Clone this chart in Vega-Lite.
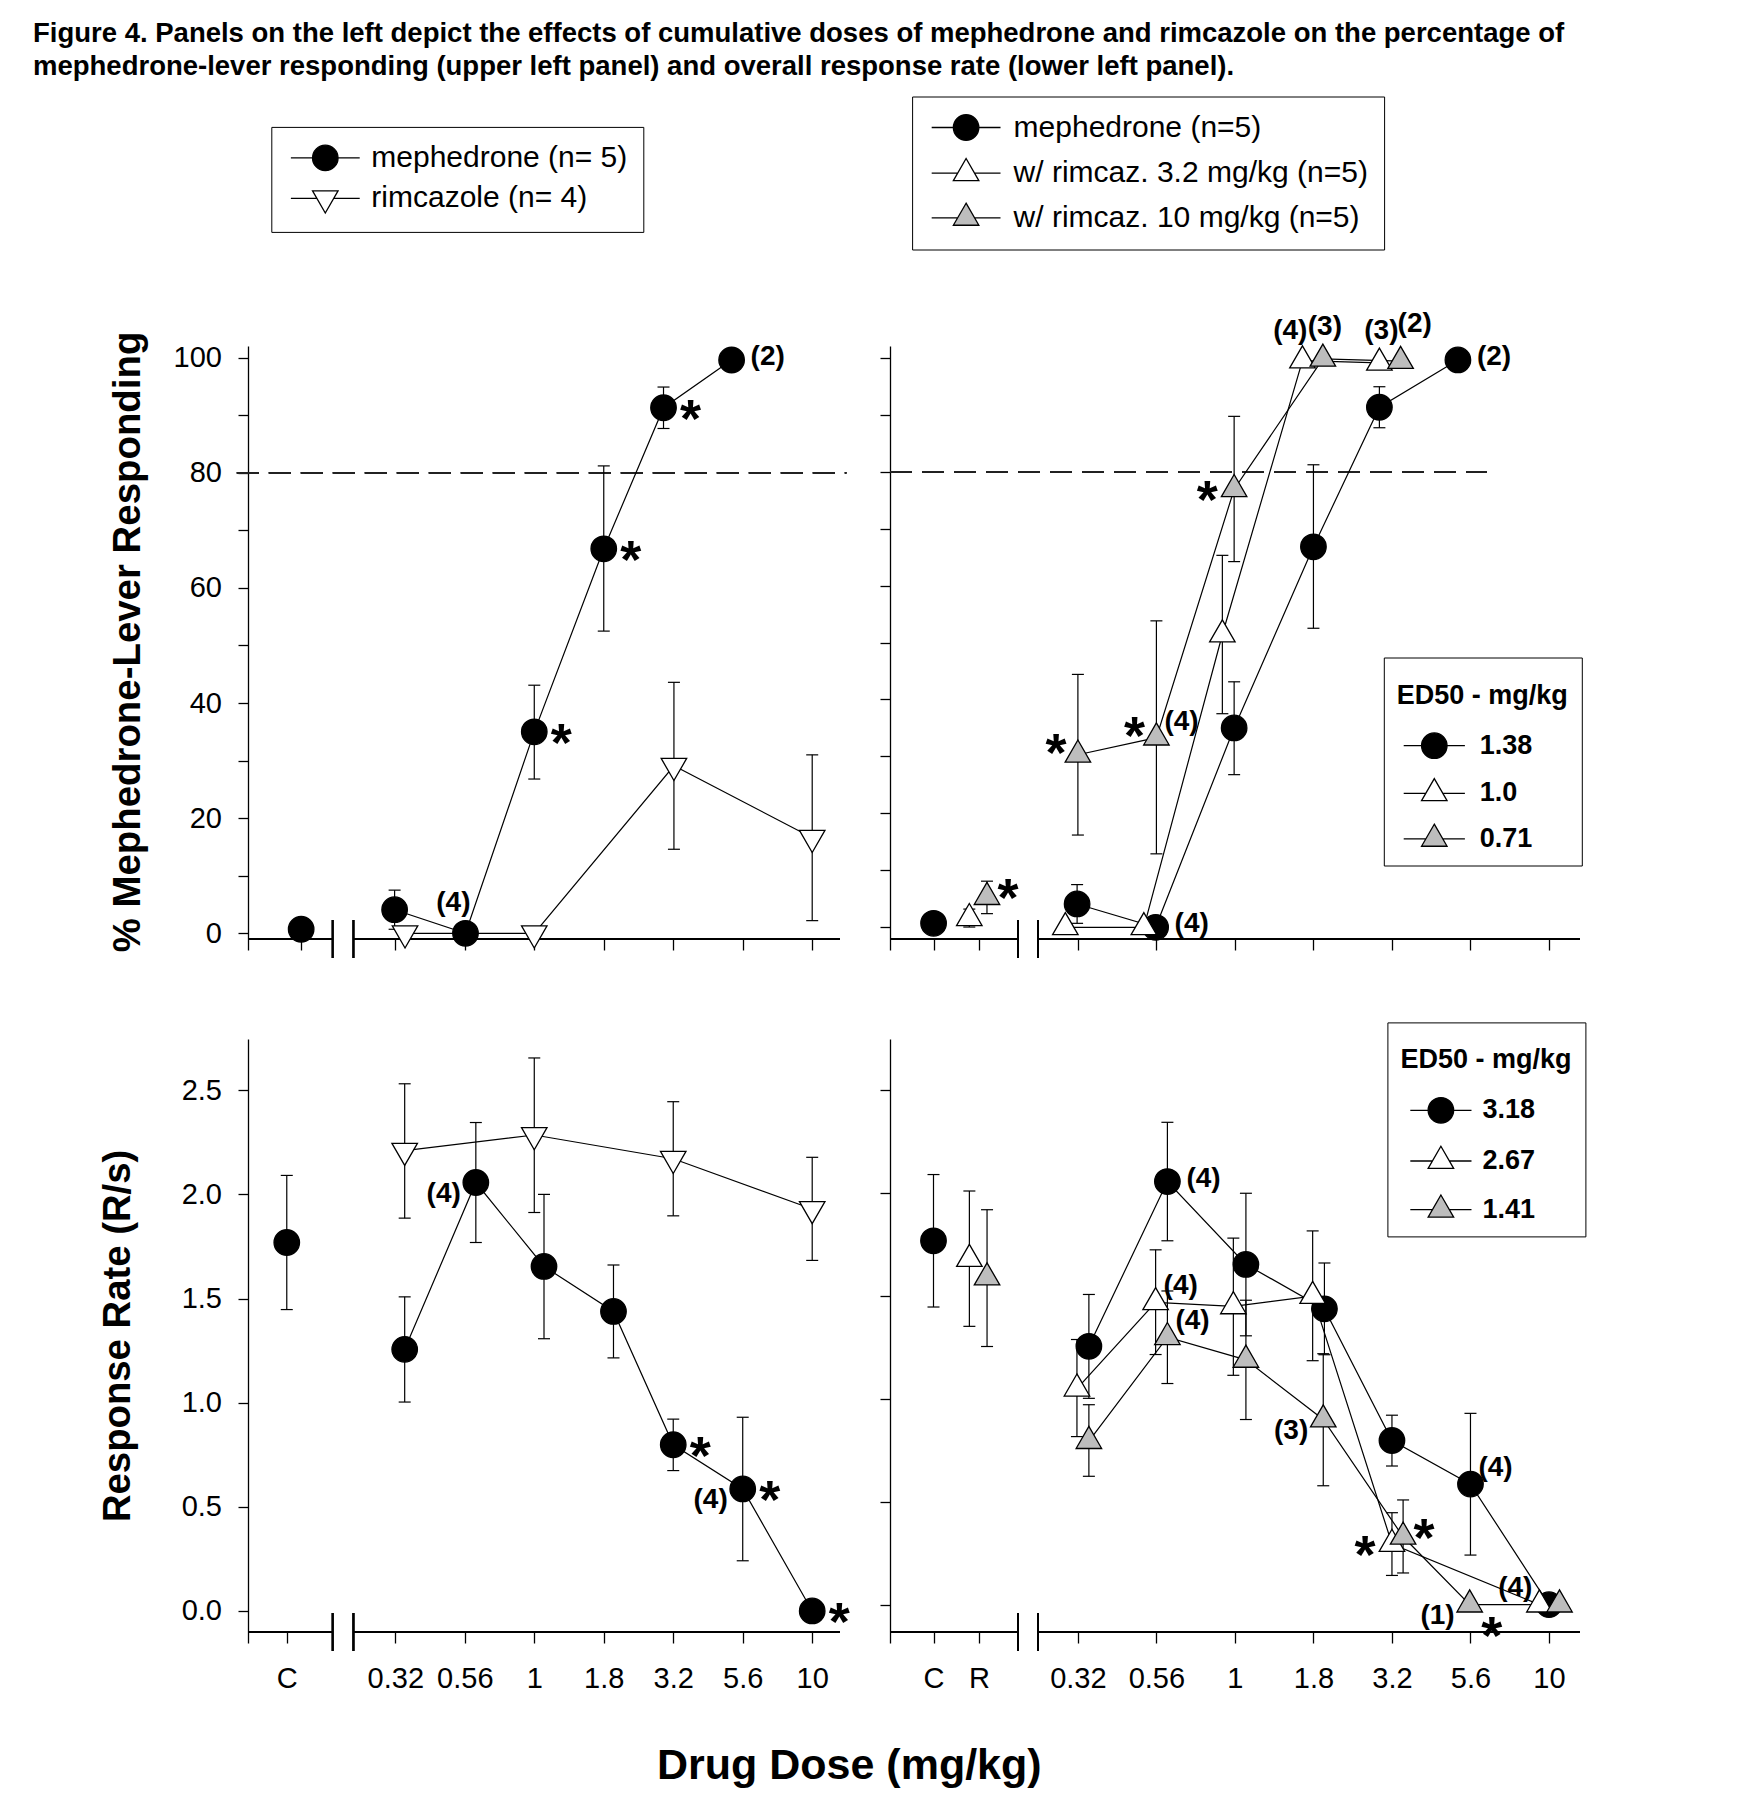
{
  "$schema": "https://vega.github.io/schema/vega-lite/v6.json",
  "background": "white",
  "padding": {"left": 33, "top": 20, "right": 5, "bottom": 5},
  "title": {
    "text": ["Figure 4. Panels on the left depict the effects of cumulative doses of mephedrone and rimcazole on the percentage of", "mephedrone-lever responding (upper left panel) and overall response rate (lower left panel)."],
    "anchor": "start", "frame": "group", "dx": -215, "offset": 16,
    "font": "Liberation Sans", "fontSize": 27.5, "fontWeight": "bold", "color": "black", "lineHeight": 32.5
  },
  "columns": 2,
  "spacing": {"row": 100, "column": 50},
  "align": "each",
  "bounds": "flush",
  "resolve": {
    "scale": {"x": "independent", "y": "independent", "shape": "independent", "fill": "independent", "stroke": "independent"},
    "axis": {"x": "independent", "y": "independent"},
    "legend": {"shape": "independent", "fill": "independent", "stroke": "independent"}
  },
  "config": {
    "view": {"stroke": null},
    "font": "Liberation Sans",
    "axis": {"grid": false, "domainColor": "black", "tickColor": "black", "labelColor": "black", "titleColor": "black", "labelFont": "Liberation Sans", "titleFont": "Liberation Sans", "domainWidth": 1.3, "tickWidth": 1.3, "labelFlush": false, "labelOverlap": false, "labelBound": false},
    "text": {"font": "Liberation Sans"}
  },
  "datasets": {
    "disc_left": [
      {"group": "mephedrone", "dose": "C", "slot": -0.355, "mean": 0.7, "conn": false},
      {"group": "mephedrone", "dose": "0.32", "slot": 0.99, "mean": 4.1, "lo": 0.7, "hi": 7.5, "conn": true},
      {"group": "mephedrone", "dose": "0.56", "slot": 2.01, "mean": 0, "conn": true, "note": "(4)", "noteAt": "AL"},
      {"group": "mephedrone", "dose": "1", "slot": 3.0, "mean": 35.0, "lo": 26.8, "hi": 43.1, "conn": true, "sigAt": "R"},
      {"group": "mephedrone", "dose": "1.8", "slot": 4.0, "mean": 66.8, "lo": 52.5, "hi": 81.2, "conn": true, "sigAt": "R"},
      {"group": "mephedrone", "dose": "3.2", "slot": 4.86, "mean": 91.3, "lo": 87.7, "hi": 94.9, "conn": true, "sigAt": "R"},
      {"group": "mephedrone", "dose": "5.6", "slot": 5.84, "mean": 99.6, "conn": true, "note": "(2)", "noteAt": "R"},
      {"group": "rimcazole", "dose": "0.32", "slot": 1.14, "mean": 0, "conn": true},
      {"group": "rimcazole", "dose": "1", "slot": 3.0, "mean": 0, "conn": true},
      {"group": "rimcazole", "dose": "3.2", "slot": 5.01, "mean": 29.1, "lo": 14.6, "hi": 43.6, "conn": true},
      {"group": "rimcazole", "dose": "10", "slot": 7.0, "mean": 16.6, "lo": 2.2, "hi": 31.0, "conn": true}
    ],
    "disc_right": [
      {"group": "mephedrone", "dose": "C", "slot": -0.838, "mean": 0.7, "conn": false},
      {"group": "mephedrone", "dose": "0.32", "slot": 0.99, "mean": 4.1, "lo": 0.7, "hi": 7.5, "conn": true},
      {"group": "mephedrone", "dose": "0.56", "slot": 1.99, "mean": 0, "conn": true, "note": "(4)", "noteAt": "R"},
      {"group": "mephedrone", "dose": "1", "slot": 2.99, "mean": 35.0, "lo": 26.8, "hi": 43.1, "conn": true},
      {"group": "mephedrone", "dose": "1.8", "slot": 4.0, "mean": 66.8, "lo": 52.5, "hi": 81.2, "conn": true},
      {"group": "mephedrone", "dose": "3.2", "slot": 4.84, "mean": 91.3, "lo": 87.7, "hi": 94.9, "conn": true},
      {"group": "mephedrone", "dose": "5.6", "slot": 5.84, "mean": 99.6, "conn": true, "note": "(2)", "noteAt": "R"},
      {"group": "rimcaz3.2", "dose": "R", "slot": -0.383, "mean": 1.6, "lo": 0.05, "hi": 3.2, "conn": false},
      {"group": "rimcaz3.2", "dose": "0.32", "slot": 0.84, "mean": 0, "conn": true},
      {"group": "rimcaz3.2", "dose": "0.56", "slot": 1.84, "mean": 0, "conn": true},
      {"group": "rimcaz3.2", "dose": "1", "slot": 2.84, "mean": 51.4, "lo": 37.5, "hi": 65.3, "conn": true},
      {"group": "rimcaz3.2", "dose": "1.8", "slot": 3.86, "mean": 99.5, "conn": true, "note": "(4)", "noteAt": "AL"},
      {"group": "rimcaz3.2", "dose": "3.2", "slot": 4.84, "mean": 99.1, "conn": true, "note": "(3)", "noteAt": "A"},
      {"group": "rimcaz10", "dose": "R", "slot": -0.158, "mean": 5.3, "lo": 2.4, "hi": 8.1, "conn": false, "sigAt": "UR"},
      {"group": "rimcaz10", "dose": "0.32", "slot": 1.0, "mean": 30.3, "lo": 16.2, "hi": 44.4, "conn": true, "sigAt": "UL"},
      {"group": "rimcaz10", "dose": "0.56", "slot": 2.0, "mean": 33.3, "lo": 12.9, "hi": 53.8, "conn": true, "sigAt": "UL", "note": "(4)", "noteAt": "UR"},
      {"group": "rimcaz10", "dose": "1", "slot": 2.99, "mean": 76.9, "lo": 64.2, "hi": 89.7, "conn": true, "sigAt": "L"},
      {"group": "rimcaz10", "dose": "1.8", "slot": 4.12, "mean": 99.8, "conn": true, "note": "(3)", "noteAt": "A"},
      {"group": "rimcaz10", "dose": "3.2", "slot": 5.11, "mean": 99.4, "conn": true, "note": "(2)", "noteAt": "AR"}
    ],
    "rate_left": [
      {"group": "mephedrone", "dose": "C", "slot": -0.562, "mean": 1.769, "lo": 1.447, "hi": 2.091, "conn": false},
      {"group": "mephedrone", "dose": "0.32", "slot": 1.135, "mean": 1.256, "lo": 1.003, "hi": 1.508, "conn": true},
      {"group": "mephedrone", "dose": "0.56", "slot": 2.159, "mean": 2.057, "lo": 1.769, "hi": 2.345, "conn": true, "note": "(4)", "noteAt": "LL"},
      {"group": "mephedrone", "dose": "1", "slot": 3.14, "mean": 1.654, "lo": 1.307, "hi": 2.0, "conn": true},
      {"group": "mephedrone", "dose": "1.8", "slot": 4.14, "mean": 1.438, "lo": 1.215, "hi": 1.661, "conn": true},
      {"group": "mephedrone", "dose": "3.2", "slot": 5.0, "mean": 0.798, "lo": 0.674, "hi": 0.921, "conn": true, "sigAt": "R"},
      {"group": "mephedrone", "dose": "5.6", "slot": 6.0, "mean": 0.586, "lo": 0.241, "hi": 0.93, "conn": true, "note": "(4)", "noteAt": "LL", "sigAt": "R"},
      {"group": "mephedrone", "dose": "10", "slot": 7.0, "mean": 0.0, "conn": true, "sigAt": "R"},
      {"group": "rimcazole", "dose": "0.32", "slot": 1.135, "mean": 2.21, "lo": 1.886, "hi": 2.531, "conn": true},
      {"group": "rimcazole", "dose": "1", "slot": 3.0, "mean": 2.285, "lo": 1.913, "hi": 2.655, "conn": true},
      {"group": "rimcazole", "dose": "3.2", "slot": 5.0, "mean": 2.171, "lo": 1.897, "hi": 2.445, "conn": true},
      {"group": "rimcazole", "dose": "10", "slot": 7.0, "mean": 1.93, "lo": 1.683, "hi": 2.178, "conn": true}
    ],
    "rate_right": [
      {"group": "mephedrone", "dose": "C", "slot": -0.839, "mean": 1.769, "lo": 1.447, "hi": 2.091, "conn": false},
      {"group": "mephedrone", "dose": "0.32", "slot": 1.14, "mean": 1.256, "lo": 1.003, "hi": 1.508, "conn": true},
      {"group": "mephedrone", "dose": "0.56", "slot": 2.14, "mean": 2.057, "lo": 1.769, "hi": 2.345, "conn": true, "note": "(4)", "noteAt": "R"},
      {"group": "mephedrone", "dose": "1", "slot": 3.14, "mean": 1.654, "lo": 1.307, "hi": 2.0, "conn": true},
      {"group": "mephedrone", "dose": "1.8", "slot": 4.14, "mean": 1.438, "lo": 1.215, "hi": 1.661, "conn": true},
      {"group": "mephedrone", "dose": "3.2", "slot": 5.0, "mean": 0.798, "lo": 0.674, "hi": 0.921, "conn": true},
      {"group": "mephedrone", "dose": "5.6", "slot": 6.0, "mean": 0.586, "lo": 0.241, "hi": 0.93, "conn": true, "note": "(4)", "noteAt": "UR"},
      {"group": "mephedrone", "dose": "10", "slot": 7.0, "mean": 0.0, "conn": true},
      {"group": "rimcaz3.2", "dose": "R", "slot": -0.382, "mean": 1.68, "lo": 1.353, "hi": 2.011, "conn": false},
      {"group": "rimcaz3.2", "dose": "0.32", "slot": 0.988, "mean": 1.05, "lo": 0.817, "hi": 1.289, "conn": true},
      {"group": "rimcaz3.2", "dose": "0.56", "slot": 1.99, "mean": 1.47, "lo": 1.216, "hi": 1.725, "conn": true, "note": "(4)", "noteAt": "UR"},
      {"group": "rimcaz3.2", "dose": "1", "slot": 2.98, "mean": 1.45, "lo": 1.115, "hi": 1.782, "conn": true},
      {"group": "rimcaz3.2", "dose": "1.8", "slot": 3.99, "mean": 1.5, "lo": 1.186, "hi": 1.817, "conn": true},
      {"group": "rimcaz3.2", "dose": "3.2", "slot": 5.0, "mean": 0.295, "lo": 0.142, "hi": 0.447, "conn": true, "sigAt": "L"},
      {"group": "rimcaz3.2", "dose": "10", "slot": 6.878, "mean": 0.0, "conn": true, "note": "(4)", "noteAt": "UL"},
      {"group": "rimcaz10", "dose": "R", "slot": -0.157, "mean": 1.59, "lo": 1.255, "hi": 1.92, "conn": false},
      {"group": "rimcaz10", "dose": "0.32", "slot": 1.14, "mean": 0.795, "lo": 0.624, "hi": 0.972, "conn": true},
      {"group": "rimcaz10", "dose": "0.56", "slot": 2.14, "mean": 1.3, "lo": 1.075, "hi": 1.525, "conn": true, "note": "(4)", "noteAt": "UR"},
      {"group": "rimcaz10", "dose": "1", "slot": 3.14, "mean": 1.19, "lo": 0.9, "hi": 1.48, "conn": true},
      {"group": "rimcaz10", "dose": "1.8", "slot": 4.125, "mean": 0.9, "lo": 0.578, "hi": 1.22, "conn": true, "note": "(3)", "noteAt": "LL"},
      {"group": "rimcaz10", "dose": "3.2", "slot": 5.142, "mean": 0.33, "lo": 0.154, "hi": 0.509, "conn": true, "sigAt": "UR"},
      {"group": "rimcaz10", "dose": "5.6", "slot": 5.99, "mean": 0.0, "conn": true, "note": "(1)", "noteAt": "LL", "sigAt": "LR"},
      {"group": "rimcaz10", "dose": "10", "slot": 7.134, "mean": 0.0, "conn": true}
    ],
    "series_left": [
      {"group": "mephedrone", "label": "mephedrone (n= 5)"},
      {"group": "rimcazole", "label": "rimcazole (n= 4)"}
    ],
    "series_right": [
      {"group": "mephedrone", "label": "mephedrone (n=5)"},
      {"group": "rimcaz3.2", "label": "w/ rimcaz. 3.2 mg/kg (n=5)"},
      {"group": "rimcaz10", "label": "w/ rimcaz. 10 mg/kg (n=5)"}
    ],
    "ed50": [
      {"measure": "discrimination", "group": "mephedrone", "ed50": "1.38"},
      {"measure": "discrimination", "group": "rimcaz3.2", "ed50": "1.0"},
      {"measure": "discrimination", "group": "rimcaz10", "ed50": "0.71"},
      {"measure": "rate", "group": "mephedrone", "ed50": "3.18"},
      {"measure": "rate", "group": "rimcaz3.2", "ed50": "2.67"},
      {"measure": "rate", "group": "rimcaz10", "ed50": "1.41"}
    ]
  },
  "concat": [
    {
      "width": 592, "height": 593,
      "data": {"name": "disc_left"},
      "layer": [
        {"mark": {"type": "rule", "color": "#222222", "strokeWidth": 1.3, "strokeDash": [22, 10]},
         "encoding": {"x": {"datum": -1.28}, "x2": {"datum": 7.49}, "y": {"datum": 80}}},
        {"mark": {"type": "rule", "color": "black", "strokeWidth": 1.3},
         "encoding": {"x": {"datum": -1.12}, "x2": {"datum": 0.097}, "y": {"datum": -0.99}}},
        {"mark": {"type": "rule", "color": "black", "strokeWidth": 1.3},
         "encoding": {"x": {"datum": 0.398}, "x2": {"datum": 7.4}, "y": {"datum": -0.99}}},
        {"mark": {"type": "tick", "orient": "vertical", "size": 38, "thickness": 1.3, "color": "black", "opacity": 1},
         "encoding": {"x": {"datum": 0.097}, "y": {"datum": -0.99}}},
        {"mark": {"type": "tick", "orient": "vertical", "size": 38, "thickness": 1.3, "color": "black", "opacity": 1},
         "encoding": {"x": {"datum": 0.398}, "y": {"datum": -0.99}}},
        {"transform": [{"filter": "datum.conn"}],
         "mark": {"type": "line", "color": "black", "strokeWidth": 1.2},
         "encoding": {
           "x": {"field": "slot", "type": "quantitative", "scale": {"domain": [-1.12, 7.4], "nice": false, "zero": false},
                 "axis": {"values": [-1.12, -0.355, 1, 2, 3, 4, 5, 6, 7], "labels": false, "domain": false, "tickSize": 11, "title": null}},
           "y": {"field": "mean", "type": "quantitative", "scale": {"domain": [-0.99, 102.03], "nice": false, "zero": false},
                 "axis": {"values": [0, 10, 20, 30, 40, 50, 60, 70, 80, 90, 100], "labelExpr": "datum.value % 20 === 0 ? datum.label : ''",
                          "tickSize": 10, "labelFontSize": 29, "labelPadding": 16.5,
                          "title": "% Mephedrone-Lever Responding", "titleFontSize": 38.4, "titleFontWeight": "bold",
                          "titleX": -108.2, "titleY": 295.5, "titleBaseline": "alphabetic", "titleAlign": "center", "titleAngle": -90}},
           "detail": {"field": "group"}
         }},
        {"transform": [{"filter": "isValid(datum.lo)"}],
         "mark": {"type": "rule", "color": "black", "strokeWidth": 1.2},
         "encoding": {"x": {"field": "slot", "type": "quantitative"}, "y": {"field": "lo", "type": "quantitative"}, "y2": {"field": "hi"}}},
        {"transform": [{"filter": "isValid(datum.lo)"}],
         "mark": {"type": "tick", "orient": "horizontal", "size": 12, "thickness": 1.2, "color": "black", "opacity": 1},
         "encoding": {"x": {"field": "slot", "type": "quantitative"}, "y": {"field": "lo", "type": "quantitative"}}},
        {"transform": [{"filter": "isValid(datum.hi)"}],
         "mark": {"type": "tick", "orient": "horizontal", "size": 12, "thickness": 1.2, "color": "black", "opacity": 1},
         "encoding": {"x": {"field": "slot", "type": "quantitative"}, "y": {"field": "hi", "type": "quantitative"}}},
        {"mark": {"type": "point", "filled": true, "opacity": 1, "stroke": "black", "strokeWidth": 1.3, "size": 650},
         "encoding": {
           "x": {"field": "slot", "type": "quantitative"}, "y": {"field": "mean", "type": "quantitative"},
           "shape": {"field": "group", "type": "nominal", "scale": {"domain": ["mephedrone", "rimcazole"], "range": ["M1,0A1,1,0,1,1,-1,0A1,1,0,1,1,1,0Z", "M0,1.155L1,-0.577L-1,-0.577Z"]}, "legend": null},
           "fill": {"field": "group", "type": "nominal", "scale": {"domain": ["mephedrone", "rimcazole"], "range": ["black", "white"]}, "legend": null}
         }},
        {"transform": [{"filter": "datum.noteAt === 'R'"}],
         "mark": {"type": "text", "align": "left", "baseline": "middle", "dx": 19, "dy": -3, "fontSize": 28, "fontWeight": "bold", "color": "black"},
         "encoding": {"x": {"field": "slot", "type": "quantitative"}, "y": {"field": "mean", "type": "quantitative"}, "text": {"field": "note"}}},
        {"transform": [{"filter": "datum.noteAt === 'AL'"}],
         "mark": {"type": "text", "align": "right", "baseline": "middle", "dx": 5, "dy": -30, "fontSize": 28, "fontWeight": "bold", "color": "black"},
         "encoding": {"x": {"field": "slot", "type": "quantitative"}, "y": {"field": "mean", "type": "quantitative"}, "text": {"field": "note"}}},
        {"transform": [{"filter": "datum.sigAt === 'R'"}],
         "mark": {"type": "text", "align": "center", "baseline": "alphabetic", "dx": 27, "dy": 29, "fontSize": 54, "fontWeight": "bold", "color": "black"},
         "encoding": {"x": {"field": "slot", "type": "quantitative"}, "y": {"field": "mean", "type": "quantitative"}, "text": {"value": "*"}}},
        {"data": {"name": "series_left"},
         "mark": {"type": "point", "filled": true, "opacity": 0},
         "encoding": {
           "shape": {"field": "label", "type": "nominal", "sort": null,
                     "scale": {"range": ["M-2.7,0L-1,0M1,0L2.7,0M1,0A1,1,0,1,1,-1,0A1,1,0,1,1,1,0Z", "M-2.7,0L-0.667,0M0.667,0L2.7,0M0,1.155L1,-0.577L-1,-0.577Z"]},
                     "legend": {"title": null, "orient": "none", "legendX": 23.3, "legendY": -219.1, "direction": "vertical",
                                "strokeColor": "black", "fillColor": "white", "padding": 16, "cornerRadius": 0,
                                "labelFont": "Liberation Sans", "labelFontSize": 30, "labelColor": "black", "labelLimit": 1000, "labelOffset": 31,
                                "symbolSize": 650, "symbolStrokeWidth": 1.3, "symbolOpacity": 1, "symbolOffset": 23,
                                "rowPadding": 9.4}},
           "fill": {"field": "label", "type": "nominal", "sort": null, "scale": {"range": ["black", "white"]}, "legend": {"title": null}},
           "stroke": {"field": "label", "type": "nominal", "sort": null, "scale": {"range": ["black", "black"]}, "legend": {"title": null}}
         }}
      ],
      "resolve": {"scale": {"shape": "independent", "fill": "independent", "stroke": "independent"}}
    },
    {
      "width": 690, "height": 593,
      "data": {"name": "disc_right"},
      "layer": [
        {"mark": {"type": "rule", "color": "#222222", "strokeWidth": 1.3, "strokeDash": [22, 10]},
         "encoding": {"x": {"datum": -1.393}, "x2": {"datum": 6.21}, "y": {"datum": 80}}},
        {"mark": {"type": "rule", "color": "black", "strokeWidth": 1.3},
         "encoding": {"x": {"datum": -1.393}, "x2": {"datum": 0.237}, "y": {"datum": -2.05}}},
        {"mark": {"type": "rule", "color": "black", "strokeWidth": 1.3},
         "encoding": {"x": {"datum": 0.492}, "x2": {"datum": 7.395}, "y": {"datum": -2.05}}},
        {"mark": {"type": "tick", "orient": "vertical", "size": 38, "thickness": 1.3, "color": "black", "opacity": 1},
         "encoding": {"x": {"datum": 0.237}, "y": {"datum": -2.05}}},
        {"mark": {"type": "tick", "orient": "vertical", "size": 38, "thickness": 1.3, "color": "black", "opacity": 1},
         "encoding": {"x": {"datum": 0.492}, "y": {"datum": -2.05}}},
        {"transform": [{"filter": "datum.conn"}],
         "mark": {"type": "line", "color": "black", "strokeWidth": 1.2},
         "encoding": {
           "x": {"field": "slot", "type": "quantitative", "scale": {"domain": [-1.393, 7.395], "nice": false, "zero": false},
                 "axis": {"values": [-1.393, -0.838, -0.261, 1, 2, 3, 4, 5, 6, 7], "labels": false, "domain": false, "tickSize": 11, "title": null}},
           "y": {"field": "mean", "type": "quantitative", "scale": {"domain": [-2.05, 102.05], "nice": false, "zero": false},
                 "axis": {"values": [0, 10, 20, 30, 40, 50, 60, 70, 80, 90, 100], "labels": false, "tickSize": 10, "title": null}},
           "detail": {"field": "group"}
         }},
        {"transform": [{"filter": "isValid(datum.lo)"}],
         "mark": {"type": "rule", "color": "black", "strokeWidth": 1.2},
         "encoding": {"x": {"field": "slot", "type": "quantitative"}, "y": {"field": "lo", "type": "quantitative"}, "y2": {"field": "hi"}}},
        {"transform": [{"filter": "isValid(datum.lo)"}],
         "mark": {"type": "tick", "orient": "horizontal", "size": 12, "thickness": 1.2, "color": "black", "opacity": 1},
         "encoding": {"x": {"field": "slot", "type": "quantitative"}, "y": {"field": "lo", "type": "quantitative"}}},
        {"transform": [{"filter": "isValid(datum.hi)"}],
         "mark": {"type": "tick", "orient": "horizontal", "size": 12, "thickness": 1.2, "color": "black", "opacity": 1},
         "encoding": {"x": {"field": "slot", "type": "quantitative"}, "y": {"field": "hi", "type": "quantitative"}}},
        {"mark": {"type": "point", "filled": true, "opacity": 1, "stroke": "black", "strokeWidth": 1.3, "size": 650},
         "encoding": {
           "x": {"field": "slot", "type": "quantitative"}, "y": {"field": "mean", "type": "quantitative"},
           "shape": {"field": "group", "type": "nominal", "scale": {"domain": ["mephedrone", "rimcaz3.2", "rimcaz10"], "range": ["M1,0A1,1,0,1,1,-1,0A1,1,0,1,1,1,0Z", "M0,-1.155L1,0.577L-1,0.577Z", "M0,-1.155L1,0.577L-1,0.577Z"]}, "legend": null},
           "fill": {"field": "group", "type": "nominal", "scale": {"domain": ["mephedrone", "rimcaz3.2", "rimcaz10"], "range": ["black", "white", "#bdbdbd"]}, "legend": null}
         }},
        {"transform": [{"filter": "datum.noteAt === 'R'"}],
         "mark": {"type": "text", "align": "left", "baseline": "middle", "dx": 19, "dy": -3, "fontSize": 28, "fontWeight": "bold", "color": "black"},
         "encoding": {"x": {"field": "slot", "type": "quantitative"}, "y": {"field": "mean", "type": "quantitative"}, "text": {"field": "note"}}},
        {"transform": [{"filter": "datum.noteAt === 'UR'"}],
         "mark": {"type": "text", "align": "left", "baseline": "middle", "dx": 8, "dy": -16, "fontSize": 28, "fontWeight": "bold", "color": "black"},
         "encoding": {"x": {"field": "slot", "type": "quantitative"}, "y": {"field": "mean", "type": "quantitative"}, "text": {"field": "note"}}},
        {"transform": [{"filter": "datum.noteAt === 'A'"}],
         "mark": {"type": "text", "align": "center", "baseline": "middle", "dx": 2, "dy": -32, "fontSize": 28, "fontWeight": "bold", "color": "black"},
         "encoding": {"x": {"field": "slot", "type": "quantitative"}, "y": {"field": "mean", "type": "quantitative"}, "text": {"field": "note"}}},
        {"transform": [{"filter": "datum.noteAt === 'AL'"}],
         "mark": {"type": "text", "align": "right", "baseline": "middle", "dx": 5, "dy": -30, "fontSize": 28, "fontWeight": "bold", "color": "black"},
         "encoding": {"x": {"field": "slot", "type": "quantitative"}, "y": {"field": "mean", "type": "quantitative"}, "text": {"field": "note"}}},
        {"transform": [{"filter": "datum.noteAt === 'AR'"}],
         "mark": {"type": "text", "align": "left", "baseline": "middle", "dx": -3, "dy": -37, "fontSize": 28, "fontWeight": "bold", "color": "black"},
         "encoding": {"x": {"field": "slot", "type": "quantitative"}, "y": {"field": "mean", "type": "quantitative"}, "text": {"field": "note"}}},
        {"transform": [{"filter": "datum.sigAt === 'UR'"}],
         "mark": {"type": "text", "align": "center", "baseline": "alphabetic", "dx": 21, "dy": 19, "fontSize": 54, "fontWeight": "bold", "color": "black"},
         "encoding": {"x": {"field": "slot", "type": "quantitative"}, "y": {"field": "mean", "type": "quantitative"}, "text": {"value": "*"}}},
        {"transform": [{"filter": "datum.sigAt === 'UL'"}],
         "mark": {"type": "text", "align": "center", "baseline": "alphabetic", "dx": -22, "dy": 16, "fontSize": 54, "fontWeight": "bold", "color": "black"},
         "encoding": {"x": {"field": "slot", "type": "quantitative"}, "y": {"field": "mean", "type": "quantitative"}, "text": {"value": "*"}}},
        {"transform": [{"filter": "datum.sigAt === 'L'"}],
         "mark": {"type": "text", "align": "center", "baseline": "alphabetic", "dx": -27, "dy": 29, "fontSize": 54, "fontWeight": "bold", "color": "black"},
         "encoding": {"x": {"field": "slot", "type": "quantitative"}, "y": {"field": "mean", "type": "quantitative"}, "text": {"value": "*"}}},
        {"data": {"name": "series_right"},
         "mark": {"type": "point", "filled": true, "opacity": 0},
         "encoding": {
           "shape": {"field": "label", "type": "nominal", "sort": null,
                     "scale": {"range": ["M-2.7,0L-1,0M1,0L2.7,0M1,0A1,1,0,1,1,-1,0A1,1,0,1,1,1,0Z", "M-2.7,0L-0.667,0M0.667,0L2.7,0M0,-1.155L1,0.577L-1,0.577Z", "M-2.7,0L-0.667,0M0.667,0L2.7,0M0,-1.155L1,0.577L-1,0.577Z"]},
                     "legend": {"title": null, "orient": "none", "legendX": 22.1, "legendY": -249.5, "direction": "vertical",
                                "strokeColor": "black", "fillColor": "white", "padding": 16, "cornerRadius": 0,
                                "labelFont": "Liberation Sans", "labelFontSize": 30, "labelColor": "black", "labelLimit": 1000, "labelOffset": 32.5,
                                "symbolSize": 650, "symbolStrokeWidth": 1.3, "symbolOpacity": 1, "symbolOffset": 23,
                                "rowPadding": 11.7}},
           "fill": {"field": "label", "type": "nominal", "sort": null, "scale": {"range": ["black", "white", "#bdbdbd"]}, "legend": {"title": null}},
           "stroke": {"field": "label", "type": "nominal", "sort": null, "scale": {"range": ["black", "black", "black"]}, "legend": {"title": null}}
         }},
        {"data": {"name": "ed50"},
         "transform": [{"filter": "datum.measure === 'discrimination'"}],
         "mark": {"type": "point", "filled": true, "opacity": 0},
         "encoding": {
           "shape": {"field": "ed50", "type": "nominal", "sort": null,
                     "scale": {"range": ["M-2.4,0L-1,0M1,0L2.4,0M1,0A1,1,0,1,1,-1,0A1,1,0,1,1,1,0Z", "M-2.4,0L-0.667,0M0.667,0L2.4,0M0,-1.155L1,0.577L-1,0.577Z", "M-2.4,0L-0.667,0M0.667,0L2.4,0M0,-1.155L1,0.577L-1,0.577Z"]},
                     "legend": {"title": "ED50 - mg/kg", "orient": "none", "legendX": 493.8, "legendY": 311.5, "direction": "vertical",
                                "strokeColor": "black", "fillColor": "white", "padding": 13, "cornerRadius": 0,
                                "titleFont": "Liberation Sans", "titleFontSize": 27, "titleFontWeight": "bold", "titleColor": "black", "titleLimit": 1000,
                                "titleBaseline": "line-top", "titleLineHeight": 51, "titlePadding": 34.7,
                                "labelFont": "Liberation Sans", "labelFontSize": 27, "labelFontWeight": "bold", "labelColor": "black", "labelLimit": 1000, "labelOffset": 32,
                                "symbolSize": 650, "symbolStrokeWidth": 1.3, "symbolOpacity": 1, "symbolOffset": 24,
                                "rowPadding": 14.6}},
           "fill": {"field": "ed50", "type": "nominal", "sort": null, "scale": {"range": ["black", "white", "#bdbdbd"]}, "legend": {"title": "ED50 - mg/kg"}},
           "stroke": {"field": "ed50", "type": "nominal", "sort": null, "scale": {"range": ["black", "black", "black"]}, "legend": {"title": "ED50 - mg/kg"}}
         }}
      ],
      "resolve": {"scale": {"shape": "independent", "fill": "independent", "stroke": "independent"}}
    },
    {
      "width": 592, "height": 593,
      "data": {"name": "rate_left"},
      "layer": [
        {"mark": {"type": "rule", "color": "black", "strokeWidth": 1.3},
         "encoding": {"x": {"datum": -1.12}, "x2": {"datum": 0.097}, "y": {"datum": -0.101}}},
        {"mark": {"type": "rule", "color": "black", "strokeWidth": 1.3},
         "encoding": {"x": {"datum": 0.398}, "x2": {"datum": 7.4}, "y": {"datum": -0.101}}},
        {"mark": {"type": "tick", "orient": "vertical", "size": 38, "thickness": 1.3, "color": "black", "opacity": 1},
         "encoding": {"x": {"datum": 0.097}, "y": {"datum": -0.101}}},
        {"mark": {"type": "tick", "orient": "vertical", "size": 38, "thickness": 1.3, "color": "black", "opacity": 1},
         "encoding": {"x": {"datum": 0.398}, "y": {"datum": -0.101}}},
        {"transform": [{"filter": "datum.conn"}],
         "mark": {"type": "line", "color": "black", "strokeWidth": 1.2},
         "encoding": {
           "x": {"field": "slot", "type": "quantitative", "scale": {"domain": [-1.12, 7.4], "nice": false, "zero": false},
                 "axis": {"values": [-1.12, -0.562, 1, 2, 3, 4, 5, 6, 7],
                          "labelExpr": "datum.value < -1 ? '' : datum.value < 0 ? 'C' : ['0.32','0.56','1','1.8','3.2','5.6','10'][datum.value - 1]",
                          "labelFontSize": 29, "labelBaseline": "alphabetic", "labelPadding": 44, "domain": false, "tickSize": 11,
                          "title": "Drug Dose (mg/kg)", "titleFontSize": 43, "titleFontWeight": "bold", "titleX": 600.8, "titleY": 146.2,
                          "titleBaseline": "alphabetic", "titleAlign": "center"}},
           "y": {"field": "mean", "type": "quantitative", "scale": {"domain": [-0.101, 2.746], "nice": false, "zero": false},
                 "axis": {"values": [0, 0.5, 1, 1.5, 2, 2.5], "format": ".1f",
                          "tickSize": 10, "labelFontSize": 29, "labelPadding": 16.5,
                          "title": "Response Rate (R/s)", "titleFontSize": 38.3, "titleFontWeight": "bold",
                          "titleX": -119, "titleY": 296.4, "titleBaseline": "alphabetic", "titleAlign": "center", "titleAngle": -90}},
           "detail": {"field": "group"}
         }},
        {"transform": [{"filter": "isValid(datum.lo)"}],
         "mark": {"type": "rule", "color": "black", "strokeWidth": 1.2},
         "encoding": {"x": {"field": "slot", "type": "quantitative"}, "y": {"field": "lo", "type": "quantitative"}, "y2": {"field": "hi"}}},
        {"transform": [{"filter": "isValid(datum.lo)"}],
         "mark": {"type": "tick", "orient": "horizontal", "size": 12, "thickness": 1.2, "color": "black", "opacity": 1},
         "encoding": {"x": {"field": "slot", "type": "quantitative"}, "y": {"field": "lo", "type": "quantitative"}}},
        {"transform": [{"filter": "isValid(datum.hi)"}],
         "mark": {"type": "tick", "orient": "horizontal", "size": 12, "thickness": 1.2, "color": "black", "opacity": 1},
         "encoding": {"x": {"field": "slot", "type": "quantitative"}, "y": {"field": "hi", "type": "quantitative"}}},
        {"mark": {"type": "point", "filled": true, "opacity": 1, "stroke": "black", "strokeWidth": 1.3, "size": 650},
         "encoding": {
           "x": {"field": "slot", "type": "quantitative"}, "y": {"field": "mean", "type": "quantitative"},
           "shape": {"field": "group", "type": "nominal", "scale": {"domain": ["mephedrone", "rimcazole"], "range": ["M1,0A1,1,0,1,1,-1,0A1,1,0,1,1,1,0Z", "M0,1.155L1,-0.577L-1,-0.577Z"]}, "legend": null},
           "fill": {"field": "group", "type": "nominal", "scale": {"domain": ["mephedrone", "rimcazole"], "range": ["black", "white"]}, "legend": null}
         }},
        {"transform": [{"filter": "datum.noteAt === 'LL'"}],
         "mark": {"type": "text", "align": "right", "baseline": "middle", "dx": -15, "dy": 11, "fontSize": 28, "fontWeight": "bold", "color": "black"},
         "encoding": {"x": {"field": "slot", "type": "quantitative"}, "y": {"field": "mean", "type": "quantitative"}, "text": {"field": "note"}}},
        {"transform": [{"filter": "datum.sigAt === 'R'"}],
         "mark": {"type": "text", "align": "center", "baseline": "alphabetic", "dx": 27, "dy": 29, "fontSize": 54, "fontWeight": "bold", "color": "black"},
         "encoding": {"x": {"field": "slot", "type": "quantitative"}, "y": {"field": "mean", "type": "quantitative"}, "text": {"value": "*"}}}
      ],
      "resolve": {"scale": {"shape": "independent", "fill": "independent"}}
    },
    {
      "width": 690, "height": 593,
      "data": {"name": "rate_right"},
      "layer": [
        {"mark": {"type": "rule", "color": "black", "strokeWidth": 1.3},
         "encoding": {"x": {"datum": -1.393}, "x2": {"datum": 0.237}, "y": {"datum": -0.133}}},
        {"mark": {"type": "rule", "color": "black", "strokeWidth": 1.3},
         "encoding": {"x": {"datum": 0.492}, "x2": {"datum": 7.395}, "y": {"datum": -0.133}}},
        {"mark": {"type": "tick", "orient": "vertical", "size": 38, "thickness": 1.3, "color": "black", "opacity": 1},
         "encoding": {"x": {"datum": 0.237}, "y": {"datum": -0.133}}},
        {"mark": {"type": "tick", "orient": "vertical", "size": 38, "thickness": 1.3, "color": "black", "opacity": 1},
         "encoding": {"x": {"datum": 0.492}, "y": {"datum": -0.133}}},
        {"transform": [{"filter": "datum.conn"}],
         "mark": {"type": "line", "color": "black", "strokeWidth": 1.2},
         "encoding": {
           "x": {"field": "slot", "type": "quantitative", "scale": {"domain": [-1.393, 7.395], "nice": false, "zero": false},
                 "axis": {"values": [-1.393, -0.838, -0.261, 1, 2, 3, 4, 5, 6, 7],
                          "labelExpr": "datum.value < -1 ? '' : datum.value < -0.5 ? 'C' : datum.value < 0 ? 'R' : ['0.32','0.56','1','1.8','3.2','5.6','10'][datum.value - 1]",
                          "labelFontSize": 29, "labelBaseline": "alphabetic", "labelPadding": 44, "domain": false, "tickSize": 11, "title": null}},
           "y": {"field": "mean", "type": "quantitative", "scale": {"domain": [-0.133, 2.75], "nice": false, "zero": false},
                 "axis": {"values": [0, 0.5, 1, 1.5, 2, 2.5], "labels": false, "tickSize": 10, "title": null}},
           "detail": {"field": "group"}
         }},
        {"transform": [{"filter": "isValid(datum.lo)"}],
         "mark": {"type": "rule", "color": "black", "strokeWidth": 1.2},
         "encoding": {"x": {"field": "slot", "type": "quantitative"}, "y": {"field": "lo", "type": "quantitative"}, "y2": {"field": "hi"}}},
        {"transform": [{"filter": "isValid(datum.lo)"}],
         "mark": {"type": "tick", "orient": "horizontal", "size": 12, "thickness": 1.2, "color": "black", "opacity": 1},
         "encoding": {"x": {"field": "slot", "type": "quantitative"}, "y": {"field": "lo", "type": "quantitative"}}},
        {"transform": [{"filter": "isValid(datum.hi)"}],
         "mark": {"type": "tick", "orient": "horizontal", "size": 12, "thickness": 1.2, "color": "black", "opacity": 1},
         "encoding": {"x": {"field": "slot", "type": "quantitative"}, "y": {"field": "hi", "type": "quantitative"}}},
        {"mark": {"type": "point", "filled": true, "opacity": 1, "stroke": "black", "strokeWidth": 1.3, "size": 650},
         "encoding": {
           "x": {"field": "slot", "type": "quantitative"}, "y": {"field": "mean", "type": "quantitative"},
           "shape": {"field": "group", "type": "nominal", "scale": {"domain": ["mephedrone", "rimcaz3.2", "rimcaz10"], "range": ["M1,0A1,1,0,1,1,-1,0A1,1,0,1,1,1,0Z", "M0,-1.155L1,0.577L-1,0.577Z", "M0,-1.155L1,0.577L-1,0.577Z"]}, "legend": null},
           "fill": {"field": "group", "type": "nominal", "scale": {"domain": ["mephedrone", "rimcaz3.2", "rimcaz10"], "range": ["black", "white", "#bdbdbd"]}, "legend": null}
         }},
        {"transform": [{"filter": "datum.noteAt === 'R'"}],
         "mark": {"type": "text", "align": "left", "baseline": "middle", "dx": 19, "dy": -3, "fontSize": 28, "fontWeight": "bold", "color": "black"},
         "encoding": {"x": {"field": "slot", "type": "quantitative"}, "y": {"field": "mean", "type": "quantitative"}, "text": {"field": "note"}}},
        {"transform": [{"filter": "datum.noteAt === 'UR'"}],
         "mark": {"type": "text", "align": "left", "baseline": "middle", "dx": 8, "dy": -16, "fontSize": 28, "fontWeight": "bold", "color": "black"},
         "encoding": {"x": {"field": "slot", "type": "quantitative"}, "y": {"field": "mean", "type": "quantitative"}, "text": {"field": "note"}}},
        {"transform": [{"filter": "datum.noteAt === 'UL'"}],
         "mark": {"type": "text", "align": "right", "baseline": "middle", "dx": -7, "dy": -17, "fontSize": 28, "fontWeight": "bold", "color": "black"},
         "encoding": {"x": {"field": "slot", "type": "quantitative"}, "y": {"field": "mean", "type": "quantitative"}, "text": {"field": "note"}}},
        {"transform": [{"filter": "datum.noteAt === 'LL'"}],
         "mark": {"type": "text", "align": "right", "baseline": "middle", "dx": -15, "dy": 11, "fontSize": 28, "fontWeight": "bold", "color": "black"},
         "encoding": {"x": {"field": "slot", "type": "quantitative"}, "y": {"field": "mean", "type": "quantitative"}, "text": {"field": "note"}}},
        {"transform": [{"filter": "datum.sigAt === 'L'"}],
         "mark": {"type": "text", "align": "center", "baseline": "alphabetic", "dx": -27, "dy": 29, "fontSize": 54, "fontWeight": "bold", "color": "black"},
         "encoding": {"x": {"field": "slot", "type": "quantitative"}, "y": {"field": "mean", "type": "quantitative"}, "text": {"value": "*"}}},
        {"transform": [{"filter": "datum.sigAt === 'UR'"}],
         "mark": {"type": "text", "align": "center", "baseline": "alphabetic", "dx": 21, "dy": 19, "fontSize": 54, "fontWeight": "bold", "color": "black"},
         "encoding": {"x": {"field": "slot", "type": "quantitative"}, "y": {"field": "mean", "type": "quantitative"}, "text": {"value": "*"}}},
        {"transform": [{"filter": "datum.sigAt === 'LR'"}],
         "mark": {"type": "text", "align": "center", "baseline": "alphabetic", "dx": 22, "dy": 49, "fontSize": 54, "fontWeight": "bold", "color": "black"},
         "encoding": {"x": {"field": "slot", "type": "quantitative"}, "y": {"field": "mean", "type": "quantitative"}, "text": {"value": "*"}}},
        {"data": {"name": "ed50"},
         "transform": [{"filter": "datum.measure === 'rate'"}],
         "mark": {"type": "point", "filled": true, "opacity": 0},
         "encoding": {
           "shape": {"field": "ed50", "type": "nominal", "sort": null,
                     "scale": {"range": ["M-2.4,0L-1,0M1,0L2.4,0M1,0A1,1,0,1,1,-1,0A1,1,0,1,1,1,0Z", "M-2.4,0L-0.667,0M0.667,0L2.4,0M0,-1.155L1,0.577L-1,0.577Z", "M-2.4,0L-0.667,0M0.667,0L2.4,0M0,-1.155L1,0.577L-1,0.577Z"]},
                     "legend": {"title": "ED50 - mg/kg", "orient": "none", "legendX": 497.4, "legendY": -16.6, "direction": "vertical",
                                "strokeColor": "black", "fillColor": "white", "padding": 13, "cornerRadius": 0,
                                "titleFont": "Liberation Sans", "titleFontSize": 27, "titleFontWeight": "bold", "titleColor": "black", "titleLimit": 1000,
                                "titleBaseline": "line-top", "titleLineHeight": 51, "titlePadding": 34.4,
                                "labelFont": "Liberation Sans", "labelFontSize": 27, "labelFontWeight": "bold", "labelColor": "black", "labelLimit": 1000, "labelOffset": 28,
                                "symbolSize": 650, "symbolStrokeWidth": 1.3, "symbolOpacity": 1, "symbolOffset": 27,
                                "rowPadding": 17.7}},
           "fill": {"field": "ed50", "type": "nominal", "sort": null, "scale": {"range": ["black", "white", "#bdbdbd"]}, "legend": {"title": "ED50 - mg/kg"}},
           "stroke": {"field": "ed50", "type": "nominal", "sort": null, "scale": {"range": ["black", "black", "black"]}, "legend": {"title": "ED50 - mg/kg"}}
         }}
      ],
      "resolve": {"scale": {"shape": "independent", "fill": "independent", "stroke": "independent"}}
    }
  ]
}
